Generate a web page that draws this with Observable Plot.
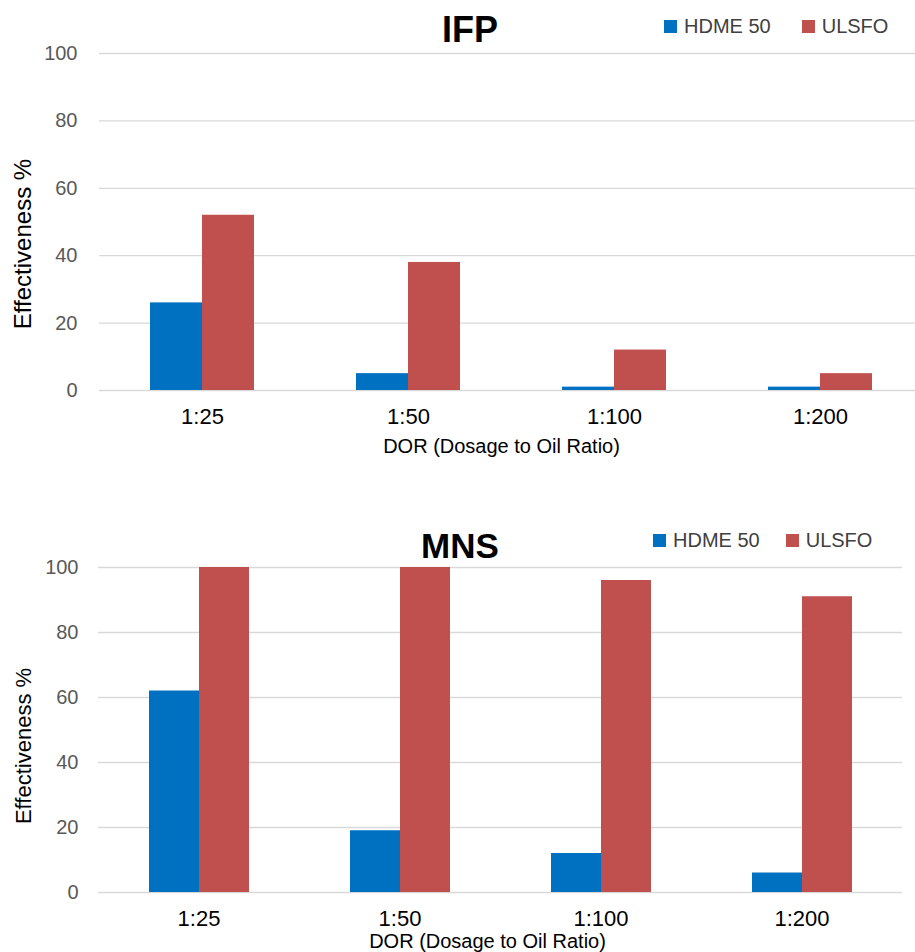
<!DOCTYPE html>
<html>
<head>
<meta charset="utf-8">
<script src="https://cdn.jsdelivr.net/npm/d3@7"></script>
<script src="https://cdn.jsdelivr.net/npm/@observablehq/plot@0.6"></script>
<style>
html, body { margin: 0; padding: 0; background: #fff; overflow: hidden; width: 915px; height: 952px; }
#root { position: relative; width: 915px; height: 952px; font-family: Arial, "Liberation Sans", sans-serif; overflow: hidden; }
.chart { position: absolute; left: 0; }
.title { position: absolute; font-weight: bold; color: #000; transform: translateX(-50%); white-space: nowrap; line-height: 1; }
.legend { position: absolute; font-size: 20px; color: #404040; white-space: nowrap; line-height: 1; display: flex; align-items: center; }
.sw { display: inline-block; width: 13px; height: 13px; margin-right: 7px; }
</style>
</head>
<body>
<div id="root"></div>
<script>
// ---- data ----
const dors = ["1:25", "1:50", "1:100", "1:200"];
const seriesNames = ["HDME 50", "ULSFO"];
const seriesColors = ["#0070c0", "#c0504d"];
const yTicks = [0, 20, 40, 60, 80, 100];
const yLabel = "Effectiveness %";
const xLabel = "DOR (Dosage to Oil Ratio)";

const ifpTitle = "IFP";
const ifpHdme = [26, 5, 1, 1];
const ifpUlsfo = [52, 38, 12, 5];

const mnsTitle = "MNS";
const mnsHdme = [62, 19, 12, 6];
const mnsUlsfo = [100, 100, 96, 91];

// ---- helpers ----
function toRows(a, b) {
  const rows = [];
  dors.forEach((d, i) => {
    rows.push({dor: d, series: seriesNames[0], value: a[i]});
    rows.push({dor: d, series: seriesNames[1], value: b[i]});
  });
  return rows;
}

function makeChart(o) {
  const rows = toRows(o.a, o.b);
  return Plot.plot({
    width: o.width,
    height: o.height,
    marginTop: o.mt,
    marginBottom: o.mb,
    marginLeft: o.ml,
    marginRight: 0,
    style: {fontFamily: "Arial, 'Liberation Sans', sans-serif", background: "transparent", maxWidth: "none", overflow: "visible"},
    fx: {domain: dors, padding: 0, label: null},
    x: {domain: seriesNames, paddingInner: 0, paddingOuter: o.xPad, axis: null},
    y: {domain: [0, 100], ticks: yTicks, axis: null},
    color: {domain: seriesNames, range: seriesColors},
    marks: [
      Plot.gridY(yTicks, {stroke: "#d9d9d9", strokeOpacity: 1, strokeWidth: 1.3}),
      Plot.barY(rows, {fx: "dor", x: "series", y: "value", fill: "series"}),
      Plot.axisY(yTicks, {tickSize: 0, tickPadding: o.ml - 77, fontSize: 20, fill: "#595959", label: null}),
      Plot.axisFx({anchor: "bottom", tickSize: 0, tickPadding: 18, fontSize: 22, fill: "#000", label: null}),
      Plot.text([{dor: dors[0], t: yLabel}], {fx: "dor", text: "t", frameAnchor: "left", textAnchor: "middle", lineAnchor: "middle", rotate: -90, dx: o.ylDx, dy: o.ylDy, fontSize: o.ylSize, fill: "#000"}),
      Plot.text([{dor: dors[1], t: xLabel}], {fx: "dor", text: "t", frameAnchor: "bottom-right", textAnchor: "middle", lineAnchor: "top", dx: o.xlDx, dy: o.xlDy, fontSize: 20, fill: "#000"})
    ]
  });
}

function addHeader(root, title, titleSize, titleX, titleTop, legLeft, legTop, legGap) {
  const t = document.createElement("div");
  t.className = "title";
  t.textContent = title;
  t.style.fontSize = titleSize + "px";
  t.style.left = titleX + "px";
  t.style.top = titleTop + "px";
  root.appendChild(t);
  const lg = document.createElement("div");
  lg.className = "legend";
  lg.style.left = legLeft + "px";
  lg.style.top = legTop + "px";
  seriesNames.forEach((s, i) => {
    const item = document.createElement("span");
    item.style.display = "inline-flex";
    item.style.alignItems = "center";
    if (i > 0) item.style.marginLeft = legGap + "px";
    const sw = document.createElement("span");
    sw.className = "sw";
    sw.style.background = seriesColors[i];
    item.appendChild(sw);
    item.appendChild(document.createTextNode(s));
    lg.appendChild(item);
  });
  root.appendChild(lg);
}

const root = document.getElementById("root");

// Chart 1: IFP
const c1 = document.createElement("div");
c1.className = "chart";
c1.style.top = "43px";
c1.style.width = "923px";
c1.appendChild(makeChart({a: ifpHdme, b: ifpUlsfo, width: 923, height: 412, mt: 10, mb: 65, ml: 99, xPad: 0.98, ylDx: -76, ylDy: 22, ylSize: 24, xlDx: -10, xlDy: 48}));
root.appendChild(c1);
addHeader(root, ifpTitle, 36, 470, 12, 664, 16, 31);

// Chart 2: MNS
const c2 = document.createElement("div");
c2.className = "chart";
c2.style.top = "557px";
c2.style.width = "903px";
c2.appendChild(makeChart({a: mnsHdme, b: mnsUlsfo, width: 903, height: 395, mt: 10, mb: 60, ml: 97, xPad: 1.0, ylDx: -75, ylDy: 16, ylSize: 22, xlDx: -13, xlDy: 41}));
root.appendChild(c2);
addHeader(root, mnsTitle, 35, 460, 528, 653, 530, 26);
</script>
</body>
</html>
